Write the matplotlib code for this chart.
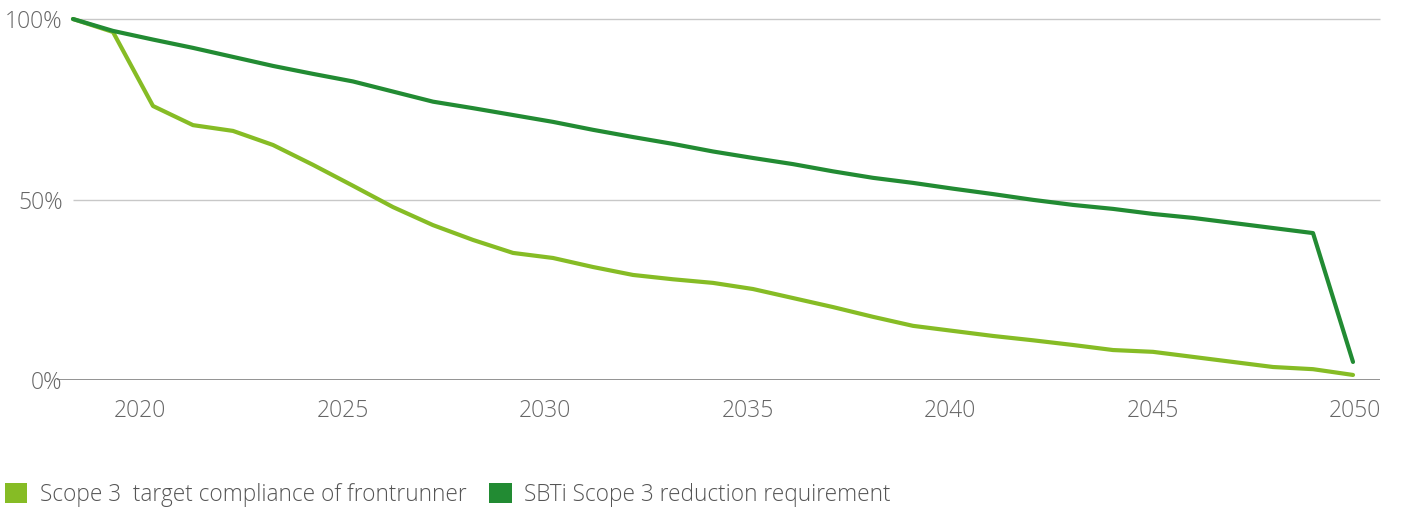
import matplotlib
matplotlib.use("Agg")
import matplotlib.pyplot as plt
from matplotlib.patches import Patch

# Data
years = list(range(2018, 2051))
frontrunner = [100, 96.4, 75.9, 70.6, 69.0, 65.1, 59.6, 53.8, 47.9, 42.9,
               38.8, 35.2, 33.8, 31.3, 29.1, 27.9, 26.9, 25.2, 22.7, 20.2,
               17.5, 15.0, 13.6, 12.2, 11.0, 9.7, 8.3, 7.8, 6.4, 5.0,
               3.6, 3.0, 1.4]
sbti = [100, 96.7, 94.3, 92.0, 89.5, 87.0, 84.8, 82.7, 79.9, 77.1,
        75.3, 73.4, 71.5, 69.3, 67.3, 65.4, 63.3, 61.5, 59.8, 57.8,
        56.0, 54.6, 53.0, 51.5, 49.9, 48.5, 47.4, 46.0, 44.9, 43.5,
        42.1, 40.7, 5.0]
tick_years = [2020, 2025, 2030, 2035, 2040, 2045, 2050]
y_ticks = [0, 50, 100]
y_labels = ["0%", "50%", "100%"]
series_names = ["Scope 3  target compliance of frontrunner",
                "SBTi Scope 3 reduction requirement"]

light_green = "#86BC25"
dark_green = "#228B33"
text_grey = "#666666"

plt.rcParams["font.family"] = ["Open Sans", "DejaVu Sans"]
plt.rcParams["font.weight"] = "light"

fig = plt.figure(figsize=(14.02, 5.11), dpi=100)
ax = fig.add_axes([57 / 1402, 131 / 511, 1323 / 1402, 361 / 511])

# grid lines start at the first data year, baseline spans the full axis
ax.hlines([50, 100], years[0], 2050.675, color="#c8c8c8", linewidth=1, zorder=1, clip_on=False)
ax.axhline(0, color="#8a8a8a", linewidth=1.3, zorder=1)

ax.plot(years, frontrunner, color=light_green, linewidth=3, zorder=3,
        solid_capstyle="round", clip_on=False)
ax.plot(years, sbti, color=dark_green, linewidth=3, zorder=4,
        solid_capstyle="round", clip_on=False)

ax.set_xlim(2017.6, 2050.675)
ax.set_ylim(0, 100)

# the year labels in the original sit on a slightly different scale than the data
def to_label(x):
    return 2020 + (x - 2019.675) * 40 / 40.5

def from_label(x):
    return 2019.675 + (x - 2020) * 40.5 / 40

ax.set_xticks([])
sec = ax.secondary_xaxis("bottom", functions=(to_label, from_label))
sec.set_xticks(tick_years)
sec.set_xticklabels([str(y) for y in tick_years])
sec.tick_params(axis="x", length=0, pad=14, labelsize=16.5, labelcolor=text_grey)
sec.spines["bottom"].set_visible(False)

ax.set_yticks(y_ticks)
ax.set_yticklabels(y_labels)
ax.tick_params(axis="y", length=0, pad=-4, labelsize=16.5, labelcolor=text_grey)

for s in ax.spines.values():
    s.set_visible(False)

handles = [Patch(facecolor=light_green, edgecolor="none"),
           Patch(facecolor=dark_green, edgecolor="none")]
fig.legend(handles, series_names, loc="lower left", bbox_to_anchor=(-0.003, -0.009),
           ncol=2, frameon=False, fontsize=16.3, labelcolor="#555555",
           handlelength=1.0, handleheight=1.0, handletextpad=0.55,
           columnspacing=1.0, borderaxespad=0.2, borderpad=0.2)

fig.savefig("out.png", dpi=100)
